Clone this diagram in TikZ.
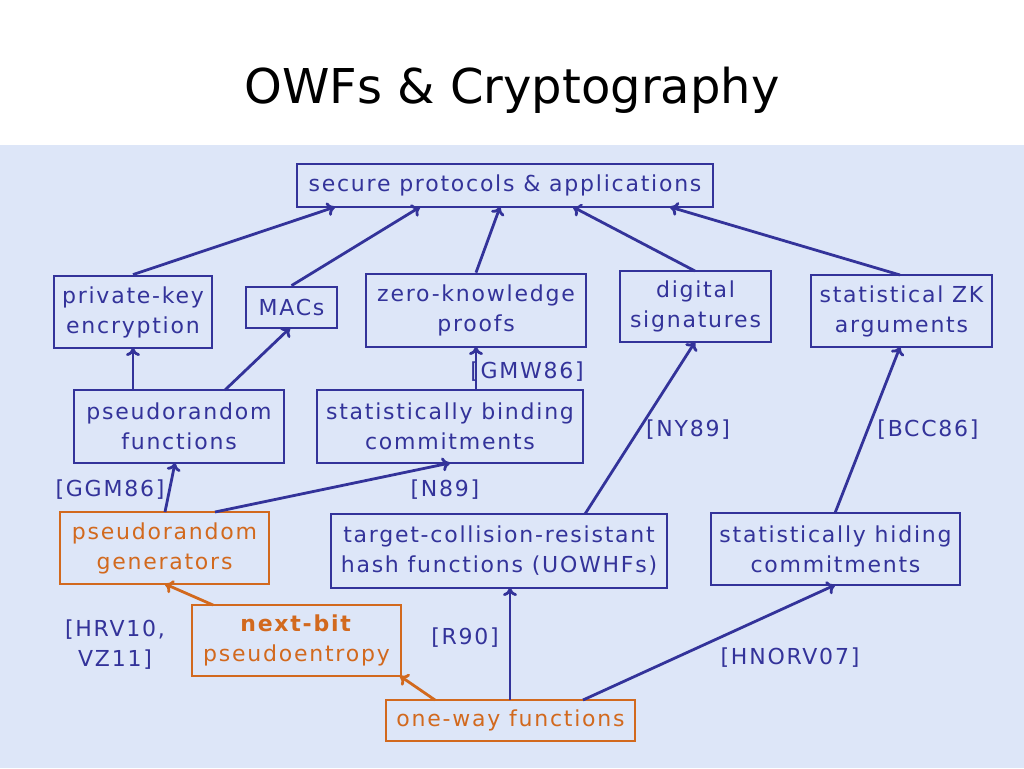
\documentclass[tikz,border=0pt]{standalone}
\usepackage{fontspec}
\setmainfont{DejaVu Sans}
\newfontfamily\bodyf[LetterSpace=8]{DejaVu Sans}
\usetikzlibrary{arrows.meta}
\definecolor{bx}{HTML}{33339A}
\definecolor{og}{HTML}{D2691E}
\definecolor{bg}{HTML}{DDE6F8}
\begin{document}
\begin{tikzpicture}[x=1pt,y=-1pt,
 bb/.style={draw=bx,text=bx,line width=2.8pt,align=center,inner sep=0pt,font=\bodyf\fontsize{22}{30}\selectfont},
 ob/.style={bb,draw=og,text=og},
 ar/.style={draw=bx,line width=2.8pt,-{To[length=8pt,width=14pt]}},
 oa/.style={ar,draw=og},
 lb/.style={text=bx,font=\bodyf\fontsize{22}{30}\selectfont,align=center}]
\useasboundingbox (0,0) rectangle (1024,768);
\fill[white] (0,0) rectangle (1024,145);
\fill[bg] (0,145) rectangle (1024,768);
\node[font=\fontsize{48}{52}\selectfont] (title) at (512,90) {OWFs \& Cryptography};
\newcommand\bxat[7]{\node[#6,minimum width=#3-#1,minimum height=#4-#2] (#5) at ({(#1+#3)/2},{(#2+#4)/2}) {#7};}
\bxat{297}{164}{713}{207}{sec}{bb}{secure protocols \& applications}
\bxat{54}{276}{212}{348}{pke}{bb}{private-key\\encryption}
\bxat{246}{287}{337}{328}{mac}{bb}{MACs}
\bxat{366}{274}{586}{347}{zk}{bb}{zero-knowledge\\proofs}
\bxat{620}{271}{771}{342}{ds}{bb}{digital\\signatures}
\bxat{811}{275}{992}{347}{szk}{bb}{statistical ZK\\arguments}
\bxat{74}{390}{284}{463}{prf}{bb}{pseudorandom\\functions}
\bxat{317}{390}{583}{463}{sbc}{bb}{statistically binding\\commitments}
\bxat{60}{512}{269}{584}{prg}{ob}{pseudorandom\\generators}
\bxat{331}{514}{667}{588}{tcr}{bb}{target-collision-resistant\\hash functions (UOWHFs)}
\bxat{711}{513}{960}{585}{shc}{bb}{statistically hiding\\commitments}
\bxat{192}{605}{401}{676}{nb}{ob}{\textbf{next-bit}\\pseudoentropy}
\bxat{386}{700}{635}{741}{owf}{ob}{one-way functions}
\draw[ar] (pke.north) -- (335,207);
\draw[ar] (mac.north) -- (420,207);
\draw[ar] (zk.north) -- (500,207);
\draw[ar] (695,271) -- (573,207);
\draw[ar] (900,275) -- (670,207);
\draw[ar] (133,390) -- (133,348);
\draw[ar] (225,390) -- (290,328);
\draw[ar] (476,390) -- (476,347);
\draw[ar] (165,512) -- (175,463);
\draw[ar] (215,512) -- (450,463);
\draw[ar] (585,514) -- (695,342);
\draw[ar] (835,513) -- (900,347);
\draw[oa] (213,605) -- (165,584);
\draw[oa] (435,700) -- (400,676);
\draw[ar] (510,700) -- (510,588);
\draw[ar] (583,700) -- (835,585);
\node[lb] (l1) at (527,372) {[GMW86]};
\node[lb] (l2) at (688,430) {[NY89]};
\node[lb] (l3) at (928,430) {[BCC86]};
\node[lb] (l4) at (110,490) {[GGM86]};
\node[lb] (l5) at (445,490) {[N89]};
\node[lb] (l6) at (115,645) {[HRV10,\\VZ11]};
\node[lb] (l7) at (465,638) {[R90]};
\node[lb] (l8) at (790,658) {[HNORV07]};
\end{tikzpicture}
\end{document}
